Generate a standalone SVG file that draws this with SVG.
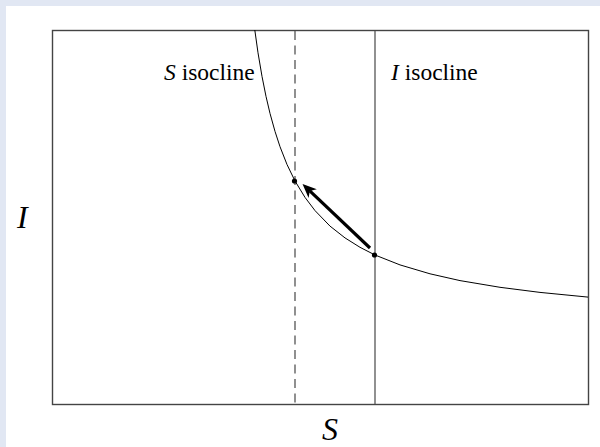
<svg xmlns="http://www.w3.org/2000/svg" width="600" height="447" viewBox="0 0 600 447">
<defs>
<style>
.frame{fill:none;stroke:#444;stroke-width:1.4}
.curve{fill:none;stroke:#000;stroke-width:1}
.iso{stroke:#555;stroke-width:1.3;fill:none}
.dash{stroke-dasharray:9 5.5}
.dot{fill:#000}
text{font-family:'Liberation Serif','Times New Roman',serif}
</style>
<marker id="ah" markerUnits="userSpaceOnUse" markerWidth="16" markerHeight="14" refX="4" refY="6" orient="auto">
<path d="M0,0 L14,6 L0,12 L4,6 z" fill="#000"/>
</marker>
</defs>
<rect x="0" y="0" width="600" height="447" fill="#e1e7f3"/>
<rect x="6" y="6" width="594" height="441" fill="#fff"/>
<g id="frame">
<rect class="frame" x="52.5" y="30.5" width="536" height="374"/>
</g>
<g id="s-isocline">
<line class="iso dash" x1="295" y1="31" x2="295" y2="404"/>
<text x="164" y="80" font-size="23.5"><tspan font-style="italic">S</tspan> isocline</text>
</g>
<g id="i-isocline">
<line class="iso" x1="375" y1="31" x2="375" y2="404"/>
<text x="391" y="80" font-size="23.5"><tspan font-style="italic">I</tspan> isocline</text>
</g>
<g id="hyperbola">
<polyline class="curve" points="254.8,30 258,52.8 262,76.4 266,96.4 270,113.4 275,131.4 280,146.7 287,164.5 295,181 305,197.4 315,210.6 330,226.1 345,237.9 360,247.3 375,255 400,264.9 430,273.8 460,280.6 500,287.3 540,292.4 588,297.1"/>
</g>
<g id="points">
<circle class="dot" cx="294.5" cy="181" r="2.6"/>
<circle class="dot" cx="374.5" cy="255" r="2.6"/>
</g>
<g id="connectors">
<line x1="370" y1="248" x2="309.8" y2="190.9" stroke="#000" stroke-width="3.2" marker-end="url(#ah)"/>
</g>
<g id="axis-labels">
<text x="17" y="228" font-size="32" font-style="italic">I</text>
<text x="322" y="440" font-size="32" font-style="italic">S</text>
</g>
</svg>
